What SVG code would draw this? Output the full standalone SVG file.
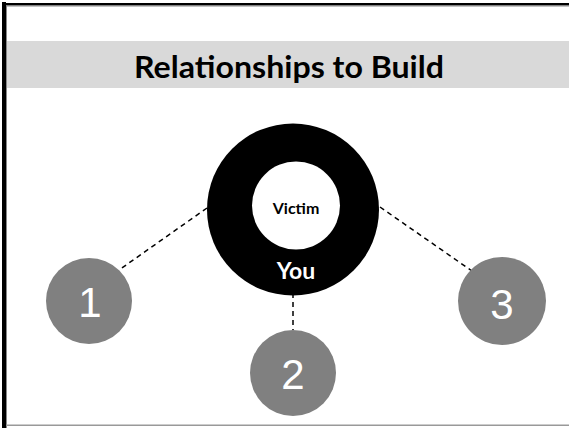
<svg xmlns="http://www.w3.org/2000/svg" width="569" height="428" viewBox="0 0 569 428">
  <style>
    .num { fill: #ffffff; font-family: "Liberation Sans", Arial, sans-serif; font-size: 42px; text-anchor: middle; }
    .node-circle { fill: #808080; }
    .link { stroke: #000000; stroke-width: 1.5; stroke-dasharray: 5 4; fill: none; }
    .bold { font-family: "Lato", "Liberation Sans", Arial, sans-serif; font-weight: bold; text-anchor: middle; }
  </style>
  <rect x="0" y="0" width="569" height="428" fill="#ffffff"/>
  <!-- slide frame -->
  <rect x="2" y="2" width="4" height="426" fill="#000000"/>
  <rect x="2" y="3" width="567" height="2.5" fill="#000000"/>
  <rect x="6" y="5.5" width="563" height="1" fill="#888888"/>
  <rect x="6" y="5.5" width="1" height="422.5" fill="#888888"/>
  <rect x="6" y="424.5" width="563" height="1.5" fill="#999999"/>

  <!-- title band -->
  <g id="title">
    <rect x="7" y="41" width="562" height="47" fill="#d9d9d9"/>
    <text class="bold" x="289" y="78" font-size="30" textLength="310" lengthAdjust="spacingAndGlyphs">Relationships to Build</text>
  </g>

  <g id="connectors">
    <line class="link" x1="207" y1="208" x2="119" y2="270"/>
    <line class="link" x1="293" y1="293" x2="293" y2="330"/>
    <line class="link" x1="380" y1="207" x2="472" y2="271"/>
  </g>

  <g id="you">
    <circle cx="293" cy="209.5" r="86" fill="#000000"/>
    <text class="bold" x="296" y="279" font-size="23" fill="#ffffff">You</text>
  </g>
  <g id="victim">
    <circle cx="296" cy="205.5" r="44" fill="#ffffff"/>
    <text class="bold" x="296" y="214" font-size="16" fill="#000000">Victim</text>
  </g>

  <g id="node1">
    <circle class="node-circle" cx="89" cy="301" r="43"/>
    <text class="num" x="90" y="317">1</text>
  </g>
  <g id="node2">
    <circle class="node-circle" cx="293" cy="373" r="43"/>
    <text class="num" x="293" y="389">2</text>
  </g>
  <g id="node3">
    <circle class="node-circle" cx="502" cy="301" r="44"/>
    <text class="num" x="502" y="319">3</text>
  </g>
</svg>
